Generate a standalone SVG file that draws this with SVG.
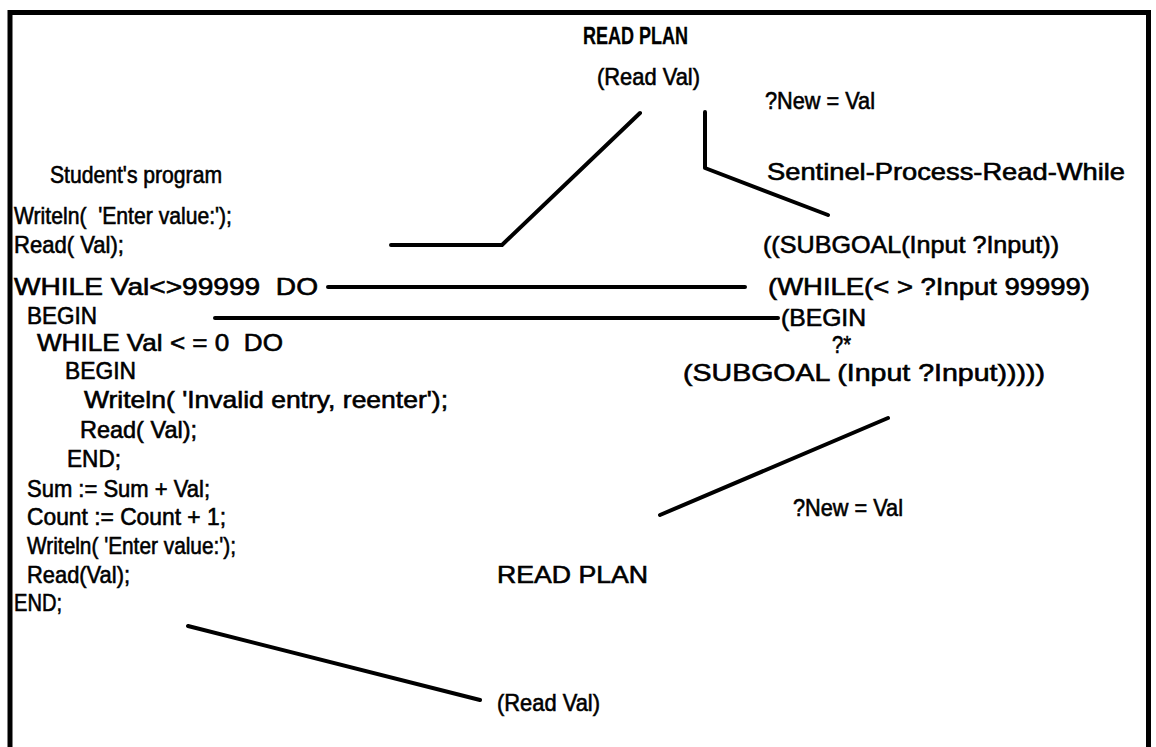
<svg xmlns="http://www.w3.org/2000/svg" width="1156" height="747" viewBox="0 0 1156 747">
  <style>
    text { font-family: "Liberation Sans", Arial, Helvetica, sans-serif; font-size: 24px; fill: #000; stroke: #000; stroke-width: 0.6px; white-space: pre; }
    .title { font-weight: bold; stroke-width: 0.3px; }
    .link { fill: none; stroke: #000; stroke-width: 4; stroke-linecap: round; stroke-linejoin: round; }
    .frame { fill: none; stroke: #000; stroke-width: 5; }
  </style>
  <rect width="1156" height="747" fill="#fff"/>
  <!-- outer frame, open at the bottom edge -->
  <path class="frame" d="M 10 747 V 12.5 H 1148.5 V 747"/>

  <g id="plan-top">
    <text class="title" x="583" y="44" textLength="105" lengthAdjust="spacingAndGlyphs">READ PLAN</text>
    <text x="597" y="85" textLength="103" lengthAdjust="spacingAndGlyphs">(Read Val)</text>
  </g>

  <g id="binding-top">
    <text x="765" y="109" textLength="110" lengthAdjust="spacingAndGlyphs">?New = Val</text>
  </g>

  <g id="sentinel-plan">
    <text x="767" y="180" textLength="358" lengthAdjust="spacingAndGlyphs">Sentinel-Process-Read-While</text>
    <text x="763" y="253" textLength="296" lengthAdjust="spacingAndGlyphs">((SUBGOAL(Input ?Input))</text>
    <text x="768" y="295" textLength="322" lengthAdjust="spacingAndGlyphs">(WHILE(&lt; &gt; ?Input 99999)</text>
    <text x="781" y="326" textLength="85" lengthAdjust="spacingAndGlyphs">(BEGIN</text>
    <text x="832" y="353" textLength="19" lengthAdjust="spacingAndGlyphs">?*</text>
    <text x="683" y="381" textLength="362" lengthAdjust="spacingAndGlyphs">(SUBGOAL (Input ?Input)))))</text>
  </g>

  <g id="binding-bottom">
    <text x="793" y="516" textLength="110" lengthAdjust="spacingAndGlyphs">?New = Val</text>
  </g>

  <g id="plan-bottom">
    <text x="497" y="583" textLength="151" lengthAdjust="spacingAndGlyphs">READ PLAN</text>
    <text x="497" y="711" textLength="103" lengthAdjust="spacingAndGlyphs">(Read Val)</text>
  </g>

  <g id="student-program">
    <text x="50" y="183" textLength="172" lengthAdjust="spacingAndGlyphs">Student's program</text>
    <text x="14" y="224" textLength="218" lengthAdjust="spacingAndGlyphs">Writeln(  'Enter value:');</text>
    <text x="14" y="253" textLength="110" lengthAdjust="spacingAndGlyphs">Read( Val);</text>
    <text x="14" y="295" textLength="304" lengthAdjust="spacingAndGlyphs">WHILE Val&lt;&gt;99999  DO</text>
    <text x="27" y="324" textLength="70" lengthAdjust="spacingAndGlyphs">BEGIN</text>
    <text x="37" y="351" textLength="246" lengthAdjust="spacingAndGlyphs">WHILE Val &lt; = 0  DO</text>
    <text x="65" y="379" textLength="71" lengthAdjust="spacingAndGlyphs">BEGIN</text>
    <text x="84" y="408" textLength="364" lengthAdjust="spacingAndGlyphs">Writeln( 'Invalid entry, reenter');</text>
    <text x="80" y="438" textLength="117" lengthAdjust="spacingAndGlyphs">Read( Val);</text>
    <text x="67" y="467" textLength="54" lengthAdjust="spacingAndGlyphs">END;</text>
    <text x="27" y="497" textLength="183" lengthAdjust="spacingAndGlyphs">Sum := Sum + Val;</text>
    <text x="27" y="525" textLength="199" lengthAdjust="spacingAndGlyphs">Count := Count + 1;</text>
    <text x="27" y="554" textLength="209" lengthAdjust="spacingAndGlyphs">Writeln( 'Enter value:');</text>
    <text x="27" y="583" textLength="103" lengthAdjust="spacingAndGlyphs">Read(Val);</text>
    <text x="14" y="611" textLength="48" lengthAdjust="spacingAndGlyphs">END;</text>
  </g>

  <g id="connectors">
    <polyline class="link" points="391,245 502,245 640,113"/>
    <polyline class="link" points="705,112 705,168 828,215"/>
    <line class="link" x1="328" y1="287" x2="745" y2="287"/>
    <line class="link" x1="215" y1="318" x2="778" y2="318"/>
    <line class="link" x1="888" y1="418" x2="660" y2="515"/>
    <line class="link" x1="188" y1="626" x2="480" y2="700"/>
  </g>
</svg>
